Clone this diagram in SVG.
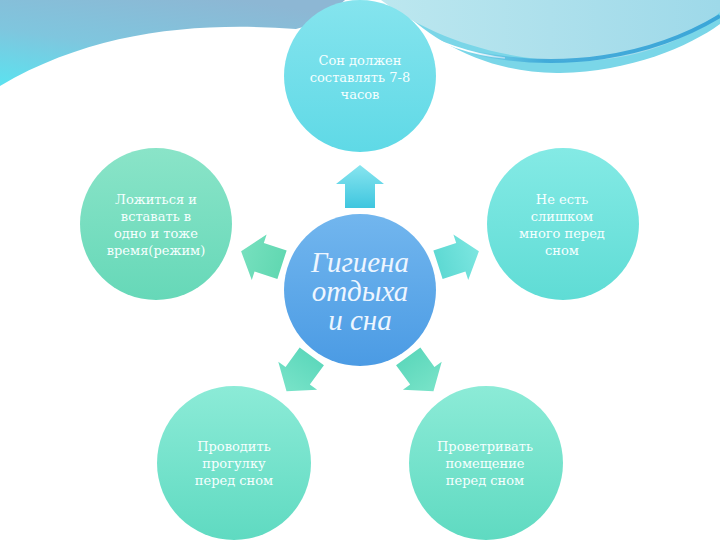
<svg xmlns="http://www.w3.org/2000/svg" width="720" height="540" viewBox="0 0 720 540">
<defs>
<linearGradient id="gWaveL" x1="0.7" y1="0" x2="0.1" y2="1">
<stop offset="0" stop-color="#8DB7D4"/><stop offset="0.55" stop-color="#7FC6DE"/><stop offset="1" stop-color="#5EE0EE"/>
</linearGradient>
<linearGradient id="gWaveR" x1="0" y1="0" x2="1" y2="0">
<stop offset="0" stop-color="#BCE7EF"/><stop offset="1" stop-color="#9ED9E9"/>
</linearGradient>
<linearGradient id="gStripe" x1="0" y1="0" x2="1" y2="0">
<stop offset="0" stop-color="#3BA6D8" stop-opacity="0"/><stop offset="0.3" stop-color="#3BA6D8" stop-opacity="0.9"/><stop offset="1" stop-color="#3BA6D8"/>
</linearGradient>
<linearGradient id="gTop" x1="0" y1="0" x2="0" y2="1"><stop offset="0" stop-color="#85E4EE"/><stop offset="1" stop-color="#5FD9E6"/></linearGradient>
<linearGradient id="gLeft" x1="0" y1="0" x2="0" y2="1"><stop offset="0" stop-color="#8AE4C8"/><stop offset="1" stop-color="#66D8B8"/></linearGradient>
<linearGradient id="gRight" x1="0" y1="0" x2="0" y2="1"><stop offset="0" stop-color="#84EAE5"/><stop offset="1" stop-color="#5FDCD5"/></linearGradient>
<linearGradient id="gBot" x1="0" y1="0" x2="0" y2="1"><stop offset="0" stop-color="#8CEBD7"/><stop offset="1" stop-color="#5FDAC1"/></linearGradient>
<linearGradient id="gCenter" x1="0" y1="0" x2="0" y2="1"><stop offset="0" stop-color="#72B6EE"/><stop offset="1" stop-color="#4B9BE4"/></linearGradient>
<linearGradient id="aTop" x1="0" y1="0" x2="0" y2="1"><stop offset="0" stop-color="#88E5EF"/><stop offset="1" stop-color="#3FC6DF"/></linearGradient>
<linearGradient id="aLeft" x1="0" y1="0" x2="0" y2="1"><stop offset="0" stop-color="#76E0BE"/><stop offset="1" stop-color="#62D8B2"/></linearGradient>
<linearGradient id="aRight" x1="0" y1="0" x2="0" y2="1"><stop offset="0" stop-color="#7CE6E0"/><stop offset="1" stop-color="#5ED9D3"/></linearGradient>
<linearGradient id="aBot" x1="0" y1="0" x2="0" y2="1"><stop offset="0" stop-color="#78E3C8"/><stop offset="1" stop-color="#5ED8BC"/></linearGradient>
<path id="arrow" d="M0,-125 L24,-106 L15,-106 L15,-82 L-15,-82 L-15,-106 L-24,-106 Z"/>
</defs>
<style>
.t{font-family:"DejaVu Serif","Liberation Serif",serif;font-size:13px;fill:#F6FFFF;text-anchor:middle;}
.c{font-family:"Liberation Serif","DejaVu Serif",serif;font-style:italic;font-size:29px;fill:#EEF6FF;text-anchor:middle;}
</style>
<rect width="720" height="540" fill="#FFFFFF"/>
<g id="background">
<path d="M0,0 H345 C332,12 318,24 296,29 C200,22 95,30 0,86 Z" fill="url(#gWaveL)"/>
<path d="M392,0 C430,42 490,74 560,73 C630,72 690,46 720,24 V0 Z" fill="#7AD6E8"/>
<path d="M381,0 C420,30 480,56 560,61 C630,64 690,40 720,12 V0 Z" fill="url(#gWaveR)"/>
<path d="M405,24 C440,44 475,55 505,58" fill="none" stroke="#FFFFFF" stroke-width="1.5"/>
<path d="M470,52 C560,72 650,58 720,16" fill="none" stroke="url(#gStripe)" stroke-width="4"/>
</g>
<g id="connectors">
<use href="#arrow" fill="url(#aTop)" transform="translate(360,290)"/>
<use href="#arrow" fill="url(#aRight)" transform="translate(360,290) rotate(72)"/>
<use href="#arrow" fill="url(#aBot)" transform="translate(360,290) rotate(144)"/>
<use href="#arrow" fill="url(#aBot)" transform="translate(360,290) rotate(216)"/>
<use href="#arrow" fill="url(#aLeft)" transform="translate(360,290) rotate(288)"/>
</g>
<g id="node-top">
<circle cx="360" cy="76" r="76" fill="url(#gTop)"/>
<text class="t" x="360" y="65">Сон должен</text>
<text class="t" x="360" y="82">составлять 7-8</text>
<text class="t" x="360" y="99">часов</text>
</g>
<g id="node-left">
<circle cx="156" cy="224" r="76" fill="url(#gLeft)"/>
<text class="t" x="156" y="204">Ложиться и</text>
<text class="t" x="156" y="221">вставать в</text>
<text class="t" x="156" y="238">одно и тоже</text>
<text class="t" x="156" y="255">время(режим)</text>
</g>
<g id="node-right">
<circle cx="563" cy="224" r="76" fill="url(#gRight)"/>
<text class="t" x="562" y="204">Не есть</text>
<text class="t" x="562" y="221">слишком</text>
<text class="t" x="562" y="238">много перед</text>
<text class="t" x="562" y="255">сном</text>
</g>
<g id="node-bottom-left">
<circle cx="234" cy="463" r="77" fill="url(#gBot)"/>
<text class="t" x="234" y="451">Проводить</text>
<text class="t" x="234" y="468">прогулку</text>
<text class="t" x="234" y="485">перед сном</text>
</g>
<g id="node-bottom-right">
<circle cx="486" cy="463" r="77" fill="url(#gBot)"/>
<text class="t" x="485" y="451">Проветривать</text>
<text class="t" x="485" y="468">помещение</text>
<text class="t" x="485" y="485">перед сном</text>
</g>
<g id="node-center">
<circle cx="360" cy="290" r="76" fill="url(#gCenter)"/>
<text class="c" x="360" y="272">Гигиена</text>
<text class="c" x="360" y="301">отдыха</text>
<text class="c" x="360" y="330">и сна</text>
</g>
</svg>
